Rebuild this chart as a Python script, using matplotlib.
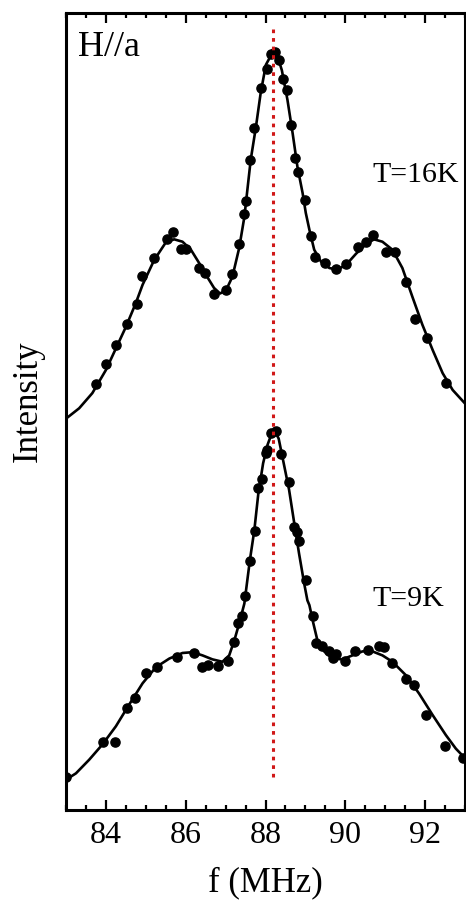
import matplotlib
matplotlib.use("Agg")
import matplotlib.pyplot as plt
from matplotlib.ticker import MultipleLocator

plt.rcParams['font.family'] = ['Liberation Serif', 'DejaVu Serif']
plt.rcParams['mathtext.fontset'] = 'stix'

# T=16K spectrum (measured points), intensity in arbitrary units incl. offset
f16 = [83.75, 84.00, 84.25, 84.53, 84.77, 84.90, 85.21, 85.52, 85.67, 85.88,
       86.02, 86.34, 86.49, 86.71, 87.02, 87.17, 87.34, 87.47, 87.52, 87.62,
       87.72, 87.88, 88.03, 88.14, 88.24, 88.34, 88.43, 88.53, 88.65, 88.73,
       88.82, 88.99, 89.14, 89.25, 89.49, 89.76, 90.01, 90.31, 90.52, 90.70,
       91.02, 91.25, 91.53, 91.75, 92.04, 92.52]
i16 = [5.35, 5.60, 5.83, 6.10, 6.35, 6.70, 6.93, 7.16, 7.25, 7.04,
       7.04, 6.80, 6.74, 6.48, 6.52, 6.73, 7.10, 7.48, 7.64, 8.16,
       8.56, 9.06, 9.30, 9.49, 9.51, 9.41, 9.17, 9.03, 8.60, 8.18,
       8.01, 7.65, 7.20, 6.94, 6.86, 6.79, 6.85, 7.06, 7.13, 7.21,
       7.00, 7.00, 6.62, 6.16, 5.92, 5.36]

# T=16K fit curve
fit16_f = [83.00, 83.33, 83.66, 84.00, 84.25, 84.50, 84.75, 84.92, 85.21, 85.50,
           85.71, 85.92, 86.13, 86.34, 86.55, 86.71, 86.86, 87.01, 87.17, 87.34,
           87.47, 87.63, 87.76, 87.88, 88.01, 88.14, 88.22, 88.30, 88.41, 88.55,
           88.68, 88.80, 88.93, 89.01, 89.10, 89.22, 89.39, 89.60, 89.80, 90.02,
           90.27, 90.52, 90.72, 90.93, 91.18, 91.43, 91.68, 91.93, 92.19, 92.44,
           92.69, 93.00]
fit16_i = [4.91, 5.04, 5.23, 5.52, 5.79, 6.06, 6.36, 6.59, 6.90, 7.12,
           7.16, 7.13, 7.03, 6.86, 6.68, 6.55, 6.48, 6.52, 6.69, 7.05,
           7.44, 8.16, 8.57, 9.00, 9.35, 9.47, 9.49, 9.46, 9.28, 8.91,
           8.49, 8.07, 7.74, 7.49, 7.28, 7.03, 6.88, 6.80, 6.78, 6.84,
           6.98, 7.10, 7.16, 7.13, 7.03, 6.80, 6.44, 6.09, 5.77, 5.48,
           5.27, 5.10]

# T=9K spectrum (measured points)
f9 = [83.00, 83.94, 84.23, 84.53, 84.73, 85.00, 85.29, 85.79, 86.21, 86.41,
      86.55, 86.82, 87.05, 87.20, 87.30, 87.41, 87.49, 87.62, 87.74, 87.80,
      87.92, 88.01, 88.05, 88.14, 88.26, 88.39, 88.59, 88.72, 88.80, 88.85,
      89.01, 89.18, 89.26, 89.41, 89.58, 89.70, 89.76, 90.00, 90.24, 90.58,
      90.85, 90.98, 91.17, 91.53, 91.71, 92.02, 92.50, 92.96]
i9 = [0.42, 0.85, 0.85, 1.28, 1.40, 1.72, 1.80, 1.92, 1.97, 1.79,
      1.82, 1.81, 1.87, 2.11, 2.34, 2.43, 2.68, 3.13, 3.50, 4.04,
      4.15, 4.48, 4.52, 4.73, 4.76, 4.47, 4.11, 3.55, 3.49, 3.38,
      2.89, 2.43, 2.09, 2.06, 1.99, 1.91, 1.96, 1.87, 1.99, 2.01,
      2.06, 2.04, 1.85, 1.64, 1.57, 1.19, 0.80, 0.65]

# T=9K fit curve
fit9_f = [83.00, 83.25, 83.58, 83.91, 84.25, 84.58, 84.92, 85.25, 85.59, 85.92,
          86.17, 86.42, 86.67, 86.92, 87.09, 87.22, 87.34, 87.47, 87.61, 87.72,
          87.82, 87.94, 88.05, 88.16, 88.24, 88.33, 88.44, 88.59, 88.72, 88.84,
          88.97, 89.05, 89.10, 89.20, 89.30, 89.47, 89.68, 89.93, 90.18, 90.43,
          90.68, 90.93, 91.18, 91.52, 91.85, 92.19, 92.52, 92.77, 93.00]
fit9_i = [0.38, 0.46, 0.63, 0.82, 1.05, 1.32, 1.59, 1.79, 1.90, 1.97,
          1.98, 1.94, 1.89, 1.86, 1.94, 2.13, 2.34, 2.59, 3.14, 3.51,
          3.97, 4.35, 4.58, 4.73, 4.75, 4.66, 4.39, 4.02, 3.60, 3.22,
          2.84, 2.63, 2.57, 2.34, 2.13, 1.99, 1.90, 1.89, 1.94, 1.99,
          1.99, 1.94, 1.86, 1.69, 1.46, 1.19, 0.94, 0.77, 0.65]

f_center = 88.2

fig = plt.figure(figsize=(4.66, 9.0), dpi=100)
ax = fig.add_axes([0.1416, 0.1, 0.8563, 0.8856])

ax.plot(fit16_f, fit16_i, color="black", lw=1.9, zorder=2)
ax.plot(f16, i16, "o", color="black", ms=6.6, zorder=3)
ax.plot(fit9_f, fit9_i, color="black", lw=1.9, zorder=2)
ax.plot(f9, i9, "o", color="black", ms=6.6, zorder=3)

ax.plot([f_center, f_center], [0.41, 9.85], color="#d01818", lw=2.2,
        linestyle=(0, (1.2, 1.6)), zorder=4)

ax.set_xlim(83, 93)
ax.set_ylim(0, 10)

ax.xaxis.set_major_locator(MultipleLocator(2))
ax.xaxis.set_minor_locator(MultipleLocator(0.5))
ax.tick_params(axis="x", which="both", direction="in", top=True, bottom=True,
               labelsize=23, width=1.6)
ax.tick_params(axis="x", which="major", length=7, pad=8)
ax.tick_params(axis="x", which="minor", length=3.5)
ax.set_yticks([])
for s in ax.spines.values():
    s.set_linewidth(2.2)

ax.set_xlabel("f (MHz)", fontsize=25, labelpad=12)
ax.set_ylabel("Intensity", fontsize=25, labelpad=15)
ax.yaxis.label.set_y(0.513)

ax.text(0.03, 0.946, "H//a", transform=ax.transAxes, fontsize=26,
        va="baseline", ha="left")
ax.text(92.85, 7.88, "T=16K", fontsize=21.5, ha="right", va="baseline")
ax.text(92.48, 2.56, "T=9K", fontsize=21.5, ha="right", va="baseline")

fig.savefig("out.png", dpi=100)
